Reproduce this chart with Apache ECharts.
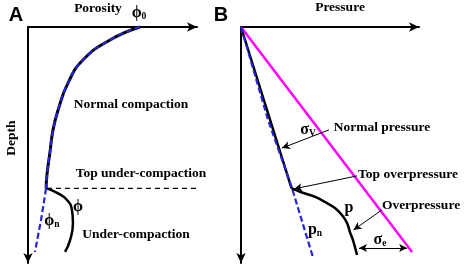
<!DOCTYPE html>
<html>
<head>
<meta charset="utf-8">
<script src="https://cdn.jsdelivr.net/npm/echarts@6/dist/echarts.min.js"></script>
<style>
  html, body { margin: 0; padding: 0; background: #fff; }
  #chart { width: 464px; height: 269px; }
</style>
</head>
<body>
<div id="chart"></div>
<script>
// Panel A: porosity (0-100, arbitrary) against depth (0-100, arbitrary)
const normalPorosity = [66.3, 48.5, 32.5, 23.7, 17.8, 14.8, 13.0, 11.2, 10.7];
const normalDepth    = [0, 5.5, 14.0, 23.7, 35.2, 43.6, 53.0, 62.7, 68.4];
const trendPorosity  = [10.7, 7.7, 4.1];
const trendDepth     = [68.4, 81.8, 95.3];
const underPorosity  = [11.2, 17.2, 23.1, 26.0, 26.6, 24.9, 21.9];
const underDepth     = [68.4, 70.3, 73.3, 77.5, 83.1, 90.3, 95.3];
const topDepth = 68.4;
const topLineSpan = [11.2, 155.6];   // porosity units, runs over into panel B

// Panel B: pressure (0-100) against depth (0-100)
const sigmaVPressure = [0, 96.1];
const sigmaVDepth    = [0, 95.3];
const pnPressure     = [0, 15.2, 28.7, 40.4];
const pnDepth        = [0, 39.4, 68.4, 97.5];
const pNormalP       = [0, 28.4];
const pNormalD       = [0, 68.4];
const pOverP         = [28.4, 33.1, 38.8, 43.3, 48.3, 52.8, 56.7, 59.6, 61.2, 62.9, 65.2];
const pOverD         = [68.4, 69.8, 71.2, 72.5, 74.6, 76.7, 79.7, 83.1, 86.9, 90.3, 96.6];

// pointer arrows in panel B: [fromP, fromD, toP, toD]
const arrowNormal = [49.4, 43.6, 23.0, 51.3];
const arrowTop    = [65.2, 63.1, 29.8, 68.6];
const arrowOver   = [79.2, 77.5, 63.2, 86.0];
const arrowSigmaE = [66.3, 93.6, 93.3, 93.6];

const zip = (a, b) => a.map((v, i) => [v, b[i]]);

const chart = echarts.init(document.getElementById('chart'));

const FONT = '"Liberation Serif", "DejaVu Serif", serif';

function axisX(gi) {
    return {
        gridIndex: gi, type: 'value', min: 0, max: 100, position: 'top',
        axisLine: { show: true, onZero: false, symbol: ['none', 'arrow'], symbolSize: [7, 10],
            lineStyle: { color: '#000', width: 2 } },
        axisTick: { show: false }, axisLabel: { show: false }, splitLine: { show: false }
    };
}
function axisY(gi) {
    // inverse axis: the arrow has to sit at the start of the line to land at the bottom
    return {
        gridIndex: gi, type: 'value', min: 0, max: 100, inverse: true,
        axisLine: { show: true, onZero: false, symbol: ['arrow', 'none'], symbolSize: [7, 10],
            lineStyle: { color: '#000', width: 2 } },
        axisTick: { show: false }, axisLabel: { show: false }, splitLine: { show: false }
    };
}

function line(gi, data, color, width, type, smooth) {
    return {
        type: 'line', xAxisIndex: gi, yAxisIndex: gi, data: data, smooth: smooth,
        symbol: 'none', clip: false, silent: true,
        lineStyle: { color: color, width: width, type: type }
    };
}

function pointer(a, both) {
    return [{ coord: [a[0], a[1]], symbol: both ? 'arrow' : 'none' },
            { coord: [a[2], a[3]], symbol: 'arrow' }];
}

const lbl = (text, x, y, extra) => Object.assign({
    type: 'text', x: x, y: y,
    style: {
        text: text, font: 'bold 13.5px ' + FONT, fill: '#000',
        align: 'center', verticalAlign: 'middle',
        rich: {
            g: { fontFamily: FONT, fontSize: 16, fontWeight: 'bold', fill: '#000' },
            s: { fontFamily: FONT, fontSize: 9.5, fontWeight: 'bold', fill: '#000', padding: [8, 0, 0, 0] }
        }
    }
}, extra || {});

const option = {
    animation: false,
    grid: [
        { left: 28, top: 27, width: 169, height: 236 },
        { left: 241, top: 27, width: 178, height: 236 }
    ],
    xAxis: [axisX(0), axisX(1)],
    yAxis: [axisY(0), axisY(1)],
    series: [
        // A
        line(0, zip(normalPorosity, normalDepth), '#000', 3, 'solid', true),
        line(0, zip(normalPorosity, normalDepth), '#2424d8', 2.2, [6, 3], true),
        line(0, zip(trendPorosity, trendDepth), '#2424d8', 2.2, [6, 3], false),
        line(0, zip(underPorosity, underDepth), '#000', 2.5, 'solid', true),
        line(0, [[topLineSpan[0], topDepth], [topLineSpan[1], topDepth]], '#000', 1.3, [5, 4], false),
        // B
        line(1, zip(sigmaVPressure, sigmaVDepth), '#ff00ff', 2.5, 'solid', false),
        line(1, zip(pNormalP, pNormalD), '#000', 2.5, 'solid', false),
        line(1, zip(pnPressure, pnDepth), '#2424d8', 2.2, [6, 3], false),
        line(1, zip(pOverP, pOverD), '#000', 2.5, 'solid', 0.3),
        {
            type: 'line', xAxisIndex: 1, yAxisIndex: 1, data: [], silent: true,
            markLine: {
                silent: true, animation: false, symbolSize: [6, 8],
                label: { show: false },
                lineStyle: { color: '#000', width: 1, type: 'solid' },
                data: [pointer(arrowNormal), pointer(arrowTop), pointer(arrowOver), pointer(arrowSigmaE, true)]
            }
        }
    ],
    graphic: [
        { type: 'text', x: 16, y: 15, style: { text: 'A', font: 'bold 20px "Liberation Sans", Arial, sans-serif', fill: '#000', align: 'center', verticalAlign: 'middle' } },
        { type: 'text', x: 221, y: 15, style: { text: 'B', font: 'bold 20px "Liberation Sans", Arial, sans-serif', fill: '#000', align: 'center', verticalAlign: 'middle' } },
        lbl('Porosity', 98, 9),
        lbl('{g|ϕ}{s|0}', 139, 13),
        lbl('Pressure', 340, 8),
        lbl('Depth', 12, 138, { rotation: Math.PI / 2 }),
        lbl('Normal compaction', 131, 105),
        lbl('Top under-compaction', 141, 174),
        lbl('Under-compaction', 136, 235),
        lbl('{g|ϕ}', 78, 207),
        lbl('{g|ϕ}{s|n}', 52, 221),
        lbl('{g|σ}{s|V}', 308, 130),
        lbl('Normal pressure', 382, 128),
        lbl('Top overpressure', 408, 175),
        lbl('{g|p}', 349, 208),
        lbl('Overpressure', 421, 206),
        lbl('{g|p}{s|n}', 315, 230),
        lbl('{g|σ}{s|e}', 380, 240)
    ]
};

chart.setOption(option);
window.addEventListener('resize', () => chart.resize());
</script>
</body>
</html>
